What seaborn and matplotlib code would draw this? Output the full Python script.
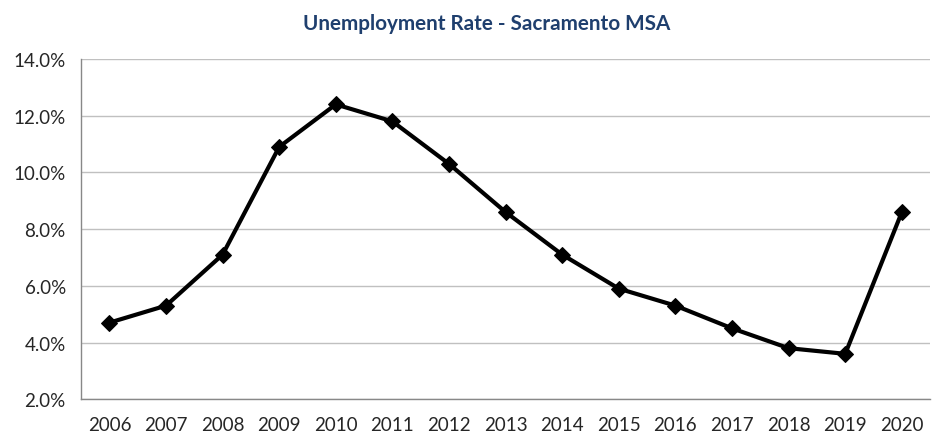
import matplotlib
matplotlib.use("Agg")
import matplotlib.pyplot as plt
import seaborn as sns
import pandas as pd
from matplotlib.ticker import FuncFormatter, FixedLocator

years = ["2006", "2007", "2008", "2009", "2010", "2011", "2012", "2013",
         "2014", "2015", "2016", "2017", "2018", "2019", "2020"]
rates = [4.7, 5.3, 7.1, 10.9, 12.4, 11.8, 10.3, 8.6, 7.1, 5.9, 5.3, 4.5, 3.8, 3.6, 8.6]
title = "Unemployment Rate - Sacramento MSA"

sns.set_theme(style="white")
plt.rcParams['font.family'] = ['Lato', 'DejaVu Sans']

df = pd.DataFrame({"pos": range(len(years)), "rate": rates})

fig = plt.figure(figsize=(9.32, 4.35), dpi=100)
ax = fig.add_axes([0.087, 0.08, 0.911, 0.782])

sns.lineplot(data=df, x="pos", y="rate", ax=ax, color="black", linewidth=3,
             marker="D", markersize=8, markeredgecolor="black", zorder=3)

ax.set_xlim(-0.5, len(years) - 0.5)
ax.set_ylim(2, 14)
ax.set_yticks([2, 4, 6, 8, 10, 12, 14])
ax.yaxis.set_major_formatter(FuncFormatter(lambda v, p: f"{v:.1f}%"))
ax.set_xticks(range(len(years)))
ax.set_xticklabels(years)
ax.xaxis.set_minor_locator(FixedLocator([i - 0.5 for i in range(len(years) + 1)]))
ax.tick_params(axis="x", which="major", length=0, pad=12, labelsize=13.5, colors="#262626")
ax.tick_params(axis="x", which="minor", length=5, width=1, color="#888888", direction="out")
ax.tick_params(axis="y", which="major", length=5, width=1, color="#888888", direction="out",
               labelsize=13.5, labelcolor="#262626", pad=6)

ax.grid(axis="y", color="#c0c0c0", linewidth=1)
ax.set_axisbelow(True)
for s in ["top", "right"]:
    ax.spines[s].set_visible(False)
for s in ["left", "bottom"]:
    ax.spines[s].set_color("#888888")
    ax.spines[s].set_linewidth(1)
ax.set_xlabel("")
ax.set_ylabel("")

fig.text(0.5225, 0.945, title, ha="center", va="center", fontsize=14.9, fontweight="bold",
         color="#1F3F6E")

fig.savefig("out.png", dpi=100)
